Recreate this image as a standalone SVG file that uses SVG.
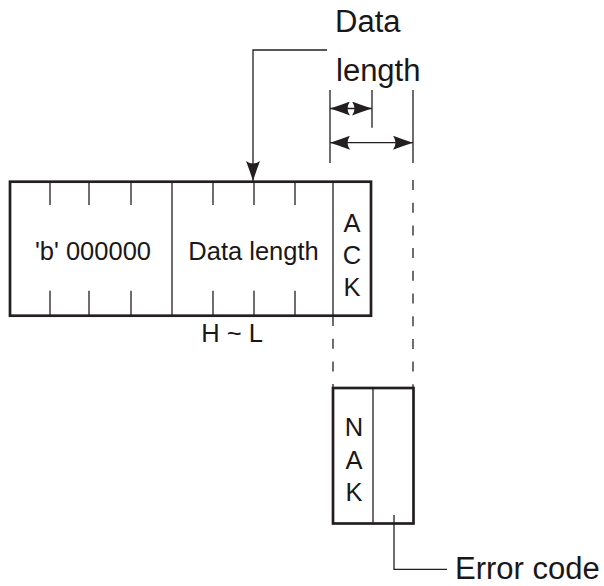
<svg xmlns="http://www.w3.org/2000/svg" width="604" height="586" viewBox="0 0 604 586">
<style>
  .box{fill:none;stroke:#231f20;stroke-width:2.7}
  .thin{fill:none;stroke:#231f20;stroke-width:1.3}
  .dash{fill:none;stroke:#231f20;stroke-width:1.3;stroke-dasharray:10 12.7}
  .t{font-family:"Liberation Sans",Arial,sans-serif;fill:#1a1718;font-size:25.5px}
  .lbl{font-family:"Liberation Sans",Arial,sans-serif;fill:#1a1718;font-size:31px}
  .mid{text-anchor:middle}
</style>
<defs>
  <marker id="ah" viewBox="0 0 20 14" refX="20" refY="7" markerWidth="20" markerHeight="14" markerUnits="userSpaceOnUse" orient="auto-start-reverse">
    <path d="M20,7 Q9,3.5 0,0 Q5,7 0,14 Q9,10.5 20,7 Z" fill="#231f20"/>
  </marker>
</defs>

<g id="ack-frame">
  <rect class="box" x="10" y="181.7" width="361" height="134"/>
  <path class="thin" d="M50,181.7V205M89,181.7V205M131,181.7V205M213,181.7V205M254,181.7V205M295,181.7V205"/>
  <path class="thin" d="M50,290.7V315.7M89,290.7V315.7M131,290.7V315.7M213,290.7V315.7M254,290.7V315.7M295,290.7V315.7"/>
  <path class="thin" d="M172,181.7V315.7M333,181.7V315.7"/>
  <text class="t mid" x="93" y="260">'b' 000000</text>
  <text class="t mid" x="253.5" y="259.5">Data length</text>
  <text class="t mid" x="352" y="231.5">A</text>
  <text class="t mid" x="352" y="264">C</text>
  <text class="t mid" x="352" y="296">K</text>
  <text class="t mid" x="232" y="341.7">H ~ L</text>
</g>

<g id="nak-frame">
  <rect class="box" x="333" y="388" width="80.5" height="135.5"/>
  <path class="thin" d="M373,388V523.5"/>
  <text class="t mid" x="354" y="436">N</text>
  <text class="t mid" x="354" y="469">A</text>
  <text class="t mid" x="354" y="500.5">K</text>
</g>

<g id="labels">
  <text class="lbl" x="335" y="32">Data</text>
  <text class="lbl" x="336" y="81">length</text>
  <text class="lbl" x="455" y="579">Error code</text>
</g>

<g id="connectors">
  <path class="thin" d="M327,50H253V181" marker-end="url(#ah)"/>
  <path class="thin" d="M330,90V163M372,90V127.7M413,90V163"/>
  <path class="thin" d="M330,108.5H372" marker-start="url(#ah)" marker-end="url(#ah)"/>
  <path class="thin" d="M330,142.7H413" marker-start="url(#ah)" marker-end="url(#ah)"/>
  <path class="dash" d="M413,180V388"/>
  <path class="dash" d="M333,316V388"/>
  <path class="thin" d="M394,515V569.3H447"/>
</g>
</svg>
